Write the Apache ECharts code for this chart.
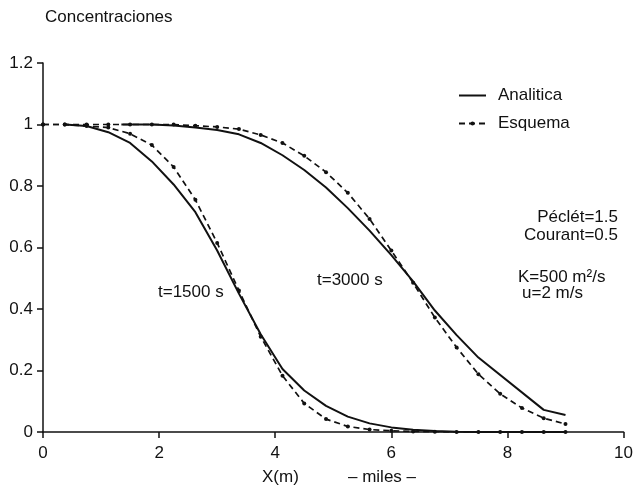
<!DOCTYPE html>
<html>
<head>
<meta charset="utf-8">
<title>Concentraciones</title>
<script src="https://cdn.jsdelivr.net/npm/echarts@6/dist/echarts.min.js"></script>
<style>
    html, body { margin: 0; padding: 0; background: #fff; }
    #chart { width: 636px; height: 489px; }
</style>
</head>
<body>
<div id="chart"></div>
<script>
// datos
var xTicks = [0, 2, 4, 6, 8, 10];
var yTicks = [0, 0.2, 0.4, 0.6, 0.8, 1, 1.2];

// t=1500 s, solucion analitica
var xAna1500 = [0.375, 0.75, 1.125, 1.5, 1.875, 2.25, 2.625, 3.0, 3.375, 3.75, 4.125, 4.5, 4.875, 5.25, 5.625, 6.0, 6.375, 6.75, 7.125, 7.5, 8.25, 9.0];
var yAna1500 = [1.0, 0.995, 0.975, 0.94, 0.88, 0.805, 0.715, 0.59, 0.45, 0.318, 0.205, 0.135, 0.085, 0.05, 0.028, 0.015, 0.007, 0.003, 0.001, 0, 0, 0];

// t=1500 s, esquema
var xEsq1500 = [0, 0.375, 0.75, 1.125, 1.5, 1.875, 2.25, 2.625, 3.0, 3.375, 3.75, 4.125, 4.5, 4.875, 5.25, 5.625, 6.0, 6.375, 6.75, 7.125, 7.5, 7.875, 8.25, 8.625, 9.0];
var yEsq1500 = [1.0, 1.0, 0.995, 0.99, 0.97, 0.933, 0.862, 0.755, 0.615, 0.46, 0.31, 0.183, 0.093, 0.042, 0.018, 0.008, 0.004, 0.002, 0.001, 0, 0, 0, 0, 0, 0];

// t=3000 s, solucion analitica
var xAna3000 = [1.35, 1.875, 2.25, 2.625, 3.0, 3.375, 3.75, 4.125, 4.5, 4.875, 5.25, 5.625, 6.0, 6.375, 6.75, 7.125, 7.5, 8.625, 9.0];
var yAna3000 = [1.0, 1.0, 0.997, 0.99, 0.982, 0.968, 0.94, 0.9, 0.852, 0.795, 0.728, 0.655, 0.575, 0.49, 0.395, 0.315, 0.242, 0.072, 0.055];

// t=3000 s, esquema
var xEsq3000 = [0, 0.375, 0.75, 1.125, 1.5, 1.875, 2.25, 2.625, 3.0, 3.375, 3.75, 4.125, 4.5, 4.875, 5.25, 5.625, 6.0, 6.375, 6.75, 7.125, 7.5, 7.875, 8.25, 8.625, 9.0];
var yEsq3000 = [1.0, 1.0, 1.0, 1.0, 1.0, 1.0, 1.0, 0.996, 0.992, 0.985, 0.966, 0.94, 0.898, 0.845, 0.778, 0.693, 0.59, 0.485, 0.372, 0.275, 0.188, 0.124, 0.078, 0.045, 0.026];

function pares(xs, ys) {
    return xs.map(function (x, i) { return [x, ys[i]]; });
}

var fuente = '"Liberation Sans", Arial, sans-serif';
var negro = '#111';

var myChart = echarts.init(document.getElementById('chart'), null, { renderer: 'canvas' });

function serieAna(datos) {
    return {
        name: 'Analitica',
        type: 'line',
        data: datos,
        symbol: 'none',
        lineStyle: { color: negro, width: 2, type: 'solid' },
        itemStyle: { color: negro },
        animation: false
    };
}

function serieEsq(datos) {
    return {
        name: 'Esquema',
        type: 'line',
        data: datos,
        symbol: 'circle',
        symbolSize: 4,
        showSymbol: true,
        lineStyle: { color: negro, width: 1.7, type: [6, 4] },
        itemStyle: { color: negro },
        animation: false
    };
}

var option = {
    backgroundColor: '#fff',
    animation: false,
    grid: { left: 43, right: 11, top: 63, bottom: 57 },
    legend: {
        // la linea continua va sin punto en la leyenda
        data: [
            { name: 'Analitica', itemStyle: { opacity: 0 } },
            'Esquema'
        ],
        orient: 'vertical',
        left: 453,
        top: 82,
        itemWidth: 27,
        itemHeight: 5,
        itemGap: 11,
        selectedMode: false,
        textStyle: { fontFamily: fuente, fontSize: 17, color: negro, lineHeight: 14, padding: [0, 0, 0, 7] }
    },
    xAxis: {
        type: 'value',
        min: xTicks[0],
        max: xTicks[xTicks.length - 1],
        interval: 2,
        axisLine: { lineStyle: { color: negro, width: 1.5 } },
        axisTick: { length: 6, lineStyle: { color: negro, width: 1.5 } },
        axisLabel: { color: negro, fontFamily: fuente, fontSize: 17, margin: 13 },
        splitLine: { show: false }
    },
    yAxis: {
        type: 'value',
        min: yTicks[0],
        max: yTicks[yTicks.length - 1],
        interval: 0.2,
        axisLine: { show: true, lineStyle: { color: negro, width: 1.5 } },
        axisTick: { show: true, length: 6, lineStyle: { color: negro, width: 1.5 } },
        axisLabel: { color: negro, fontFamily: fuente, fontSize: 17, margin: 10 },
        splitLine: { show: false }
    },
    graphic: [
        { type: 'text', x: 45, y: 17, style: { text: 'Concentraciones', font: '17px ' + fuente, fill: negro, verticalAlign: 'middle' } },
        { type: 'text', x: 158, y: 292, style: { text: 't=1500 s', font: '17px ' + fuente, fill: negro, verticalAlign: 'middle' } },
        { type: 'text', x: 317, y: 280, style: { text: 't=3000 s', font: '17px ' + fuente, fill: negro, verticalAlign: 'middle' } },
        { type: 'text', x: 618, y: 217, style: { text: 'Péclét=1.5', font: '17px ' + fuente, fill: negro, align: 'right', verticalAlign: 'middle' } },
        { type: 'text', x: 618, y: 235, style: { text: 'Courant=0.5', font: '17px ' + fuente, fill: negro, align: 'right', verticalAlign: 'middle' } },
        { type: 'text', x: 518, y: 277, style: { text: 'K=500 m²/s', font: '17px ' + fuente, fill: negro, verticalAlign: 'middle' } },
        { type: 'text', x: 522, y: 293, style: { text: 'u=2 m/s', font: '17px ' + fuente, fill: negro, verticalAlign: 'middle' } },
        { type: 'text', x: 262, y: 477, style: { text: 'X(m)', font: '17px ' + fuente, fill: negro, verticalAlign: 'middle' } },
        { type: 'text', x: 348, y: 477, style: { text: '– miles –', font: '17px ' + fuente, fill: negro, verticalAlign: 'middle' } }
    ],
    series: [
        serieAna(pares(xAna1500, yAna1500)),
        serieEsq(pares(xEsq1500, yEsq1500)),
        serieAna(pares(xAna3000, yAna3000)),
        serieEsq(pares(xEsq3000, yEsq3000))
    ]
};

myChart.setOption(option);
</script>
</body>
</html>
